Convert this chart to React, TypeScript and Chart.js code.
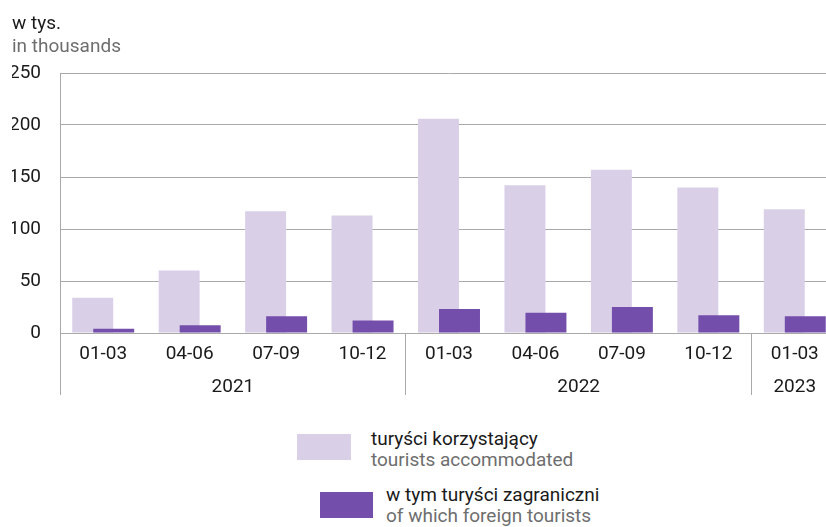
import React, { useEffect, useRef } from "react";
import { Chart, registerables } from "chart.js";

Chart.register(...registerables);

const quarters = ["01-03", "04-06", "07-09", "10-12", "01-03", "04-06", "07-09", "10-12", "01-03"];
const years = ["2021", "2021", "2021", "2021", "2022", "2022", "2022", "2022", "2023"];
const accommodated = [34, 60, 117, 113, 206, 142, 157, 140, 119];
const foreign = [4, 7.5, 16, 12, 23, 19.5, 25, 17, 16];
const yTicks = [0, 50, 100, 150, 200, 250];

const LIGHT = "#d9d0e8";
const DARK = "#744eab";
const GRID = "#a9a9a9";
const FONT = "Roboto, 'Noto Sans', sans-serif";

// year groups derived from the years list
const yearGroups: { label: string; center: number }[] = [];
const separators: number[] = [];
years.forEach((y, i) => {
  if (i === 0 || years[i - 1] !== y) {
    separators.push(i);
    let j = i;
    while (j + 1 < years.length && years[j + 1] === y) j++;
    yearGroups.push({ label: y, center: (i + j) / 2 });
  }
});

const drawOrderPlugin = {
  id: "darkOnTop",
  beforeDatasetDraw(chart: any, args: any) {
    if (args.index === 1) return false;
  },
  afterDatasetDraw(chart: any, args: any) {
    if (args.index === 0) {
      chart.getDatasetMeta(1).controller.draw();
    }
  },
};

export default function App() {
  const ref = useRef<HTMLCanvasElement | null>(null);
  useEffect(() => {
    if (!ref.current) return;
    Chart.defaults.font.family = FONT;
    const chart = new Chart(ref.current, {
      type: "bar",
      data: {
        labels: quarters,
        datasets: [
          {
            label: "turyści korzystający",
            data: accommodated,
            backgroundColor: LIGHT,
            borderWidth: 0,
            categoryPercentage: 0.486,
            barPercentage: 1.95,
          },
          {
            label: "w tym turyści zagraniczni",
            data: foreign,
            backgroundColor: DARK,
            borderWidth: 0,
            categoryPercentage: 0.486,
            barPercentage: 1.95,
          },
        ],
      },
      plugins: [drawOrderPlugin],
      options: {
        responsive: false,
        animation: false,
        layout: { padding: { top: 73, left: 12, right: 2, bottom: 7 } },
        plugins: { legend: { display: false }, tooltip: { enabled: false }, title: { display: false } },
        scales: {
          y: {
            min: 0,
            max: 250,
            afterBuildTicks: (s: any) => {
              s.ticks = yTicks.map((v) => ({ value: v }));
            },
            afterFit: (s: any) => {
              s.width = 48;
            },
            grid: { color: GRID, lineWidth: 1, drawTicks: false },
            border: { display: true, color: GRID },
            ticks: { font: { size: 19 }, color: "#1a1a1a", padding: 19 },
          },
          x: {
            type: "category",
            offset: true,
            afterFit: (s: any) => {
              s.height = 30;
            },
            grid: {
              offset: true,
              drawOnChartArea: false,
              drawTicks: true,
              tickLength: 62,
              color: (ctx: any) => (separators.includes(ctx.index) ? GRID : "rgba(0,0,0,0)"),
            },
            border: { display: true, color: GRID },
            ticks: { font: { size: 19 }, color: "#1a1a1a", padding: -52.4, autoSkip: false, maxRotation: 0 },
          },
          x2: {
            type: "linear",
            position: "bottom",
            min: -0.5,
            max: years.length - 0.5,
            offset: false,
            afterBuildTicks: (s: any) => {
              s.ticks = yearGroups.map((g) => ({ value: g.center }));
            },
            afterFit: (s: any) => {
              s.height = 40;
            },
            grid: { display: false },
            border: { display: false },
            ticks: {
              font: { size: 19 },
              color: "#1a1a1a",
              padding: 4.6,
              autoSkip: false,
              maxRotation: 0,
              callback: (v: any) => {
                const g = yearGroups.find((gg) => Math.abs(gg.center - Number(v)) < 1e-6);
                return g ? g.label : "";
              },
            },
          },
        },
      },
    });
    return () => chart.destroy();
  }, []);

  const textBlack = "#1a1a1a";
  const textGray = "#6e6e6e";
  const fontStyle: React.CSSProperties = { fontFamily: FONT, fontSize: 19, lineHeight: "21px" };

  return (
    <div style={{ position: "absolute", left: 0, top: 0, width: 826, height: 527, overflow: "hidden", background: "#fff" }}>
      <canvas ref={ref} width={840} height={410} style={{ position: "absolute", left: 0, top: 0 }} />
      <div style={{ ...fontStyle, position: "absolute", left: 12, top: 12 }}>
        <div style={{ color: textBlack }}>w tys.</div>
        <div style={{ color: textGray, marginTop: 2 }}>in thousands</div>
      </div>
      <div style={{ position: "absolute", left: 297, top: 434, width: 54, height: 26, background: LIGHT }} />
      <div style={{ ...fontStyle, position: "absolute", left: 371, top: 428 }}>
        <div style={{ color: textBlack }}>turyści korzystający</div>
        <div style={{ color: textGray }}>tourists accommodated</div>
      </div>
      <div style={{ position: "absolute", left: 320, top: 492, width: 53, height: 26, background: DARK }} />
      <div style={{ ...fontStyle, position: "absolute", left: 386, top: 484 }}>
        <div style={{ color: textBlack }}>w tym turyści zagraniczni</div>
        <div style={{ color: textGray }}>of which foreign tourists</div>
      </div>
    </div>
  );
}
